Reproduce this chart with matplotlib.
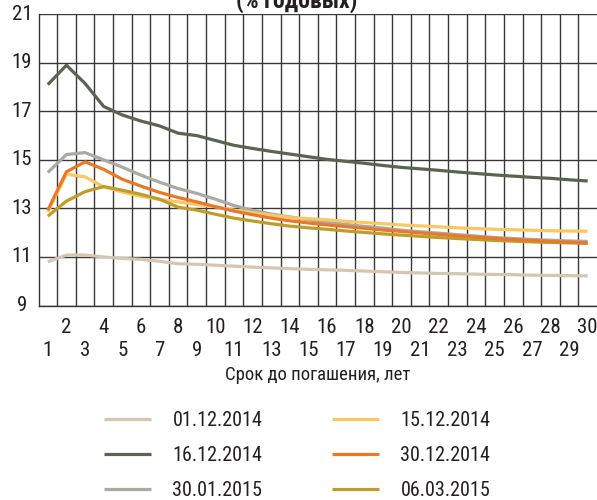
import matplotlib
matplotlib.use("Agg")
import matplotlib.pyplot as plt
from matplotlib.ticker import FixedLocator, NullFormatter

plt.rcParams["font.family"] = ["Roboto Condensed", "DejaVu Sans"]

maturity = list(range(1, 31))

y_0112 = [10.8, 11.08, 11.08, 11.0, 10.94, 10.9, 10.82, 10.72, 10.7, 10.66,
          10.62, 10.58, 10.55, 10.52, 10.49, 10.47, 10.45, 10.42, 10.39, 10.36,
          10.34, 10.32, 10.31, 10.29, 10.28, 10.27, 10.25, 10.24, 10.23, 10.22]
y_1612 = [18.1, 18.9, 18.15, 17.2, 16.85, 16.6, 16.4, 16.1, 16.0, 15.8,
          15.6, 15.47, 15.35, 15.24, 15.13, 15.02, 14.94, 14.86, 14.77, 14.69,
          14.63, 14.57, 14.5, 14.44, 14.38, 14.33, 14.28, 14.24, 14.18, 14.13]
y_3001 = [14.48, 15.22, 15.3, 15.0, 14.7, 14.37, 14.08, 13.82, 13.62, 13.38,
          13.12, 12.92, 12.77, 12.65, 12.53, 12.43, 12.34, 12.26, 12.19, 12.1,
          12.04, 11.98, 11.92, 11.86, 11.8, 11.76, 11.72, 11.69, 11.66, 11.64]
y_1512 = [12.85, 14.41, 14.3, 13.89, 13.68, 13.5, 13.37, 13.27, 13.16, 13.07,
          12.93, 12.83, 12.72, 12.63, 12.58, 12.53, 12.47, 12.42, 12.37, 12.32,
          12.28, 12.24, 12.2, 12.17, 12.14, 12.12, 12.1, 12.08, 12.07, 12.06]
y_3012 = [12.93, 14.51, 14.92, 14.61, 14.2, 13.92, 13.66, 13.45, 13.27, 13.07,
          12.89, 12.74, 12.6, 12.49, 12.4, 12.32, 12.25, 12.18, 12.11, 12.05,
          11.99, 11.93, 11.87, 11.82, 11.76, 11.72, 11.68, 11.64, 11.61, 11.58]
y_0603 = [12.68, 13.3, 13.69, 13.9, 13.75, 13.58, 13.38, 13.05, 12.93, 12.76,
          12.6, 12.48, 12.37, 12.27, 12.2, 12.14, 12.07, 12.01, 11.95, 11.9,
          11.85, 11.8, 11.76, 11.72, 11.68, 11.65, 11.62, 11.6, 11.58, 11.56]

# legend order: column-wise (left column, then right column)
series = [
    ("01.12.2014", y_0112, "#d5c6b2"),
    ("16.12.2014", y_1612, "#5b6353"),
    ("30.01.2015", y_3001, "#a9aba3"),
    ("15.12.2014", y_1512, "#f8c863"),
    ("30.12.2014", y_3012, "#e8782a"),
    ("06.03.2015", y_0603, "#bf9d2c"),
]
draw_order = ["01.12.2014", "16.12.2014", "30.01.2015", "15.12.2014",
              "06.03.2015", "30.12.2014"]

y_ticks = [9, 11, 13, 15, 17, 19, 21]
text_color = "#231f20"

fig = plt.figure(figsize=(5.97, 5.0), dpi=100)
ax = fig.add_axes([0.0645, 0.389, 0.9355, 0.5825])

handles = {}
for name in draw_order:
    label, ys, color = next(s for s in series if s[0] == name)
    (ln,) = ax.plot(maturity, ys, color=color, linewidth=2.3,
                    solid_capstyle="butt", label=label, zorder=3)
    handles[label] = ln

ax.set_xlim(0.5, 30.5)
ax.set_ylim(9, 21)
ax.yaxis.set_major_locator(FixedLocator(y_ticks))
ax.yaxis.set_major_formatter(NullFormatter())
ax.xaxis.set_major_locator(FixedLocator([k + 0.5 for k in range(1, 30)]))
ax.xaxis.set_major_formatter(NullFormatter())
ax.tick_params(axis="both", length=0)
ax.grid(True, color="#383838", linewidth=1.0)
ax.set_axisbelow(True)
ax.spines["right"].set_visible(False)
ax.spines["top"].set_visible(False)
for side in ["left", "bottom"]:
    ax.spines[side].set_color("#333333")
    ax.spines[side].set_linewidth(1.0)

# y labels, centred in the left margin
for v in y_ticks:
    ax.text(-0.0295, v, str(v), transform=ax.get_yaxis_transform(),
            ha="center", va="center", fontsize=15, color=text_color)

# two-row category labels under the axis
for k in maturity:
    ypos = -0.074 if k % 2 == 0 else -0.156
    ax.text(k, ypos, str(k), transform=ax.get_xaxis_transform(),
            ha="center", va="center", fontsize=15, color=text_color)

ax.text(0.5, -0.24, "Срок до погашения, лет", transform=ax.transAxes,
        ha="center", va="center", fontsize=13.5, color=text_color)

fig.text(297 / 597, 1 - 8 / 500, "(% годовых)", ha="center", va="baseline",
         fontsize=17, fontweight="bold", color=text_color)

leg = fig.legend([handles[s[0]] for s in series], [s[0] for s in series],
                 loc="upper left", bbox_to_anchor=(104 / 597, 0.178),
                 ncol=2, frameon=False, fontsize=14.5, handlelength=2.35,
                 handletextpad=1.05, columnspacing=3.45, labelspacing=0.8,
                 borderaxespad=0, borderpad=0)
for t in leg.get_texts():
    t.set_color(text_color)
for h in leg.legend_handles:
    h.set_linewidth(2.3)

fig.savefig("out.png", dpi=100)
